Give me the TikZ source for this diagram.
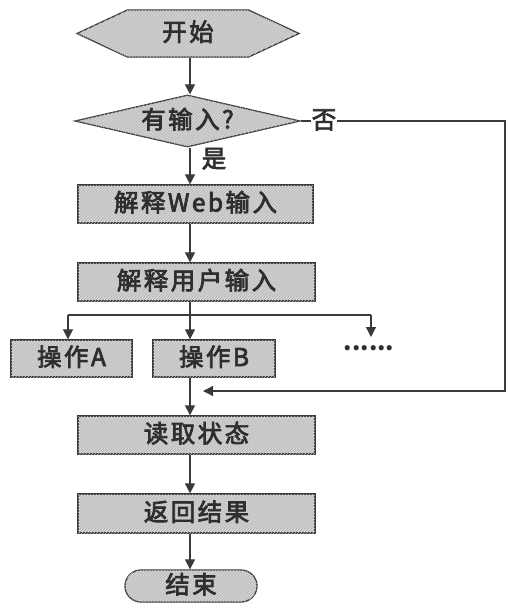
\documentclass[tikz,border=0pt]{standalone}
\usepackage{fontspec}
\setmainfont{Noto Sans CJK SC}
\newfontfamily\cjk{Noto Sans CJK SC}[LetterSpace=10, FakeBold=3]
\usetikzlibrary{shapes.geometric,shapes.misc,shapes.symbols,arrows.meta,patterns}
\definecolor{lc}{HTML}{3A3A3A}
\definecolor{fc}{HTML}{D2D2D2}
\begin{document}
\begin{tikzpicture}[x=1pt,y=-1pt,
  txt/.style={font=\cjk\fontsize{24.5}{27}\selectfont, text=black!82, text height=18pt, text depth=3pt},
  shp/.style={txt, draw=lc, line width=1.3pt, fill=fc,
    postaction={pattern=north east lines, pattern color=black!28}, inner sep=0pt},
  box/.style={shp, rectangle, minimum height=38pt},
  hex/.style={shp, signal, signal to=west and east, signal pointer angle=50},
  dia/.style={shp, diamond, aspect=4.3},
  term/.style={shp, rounded rectangle},
  lbl/.style={txt, inner sep=1pt},
  ln/.style={draw=lc, line width=1.2pt},
  arr/.style={ln, -{Triangle[width=10pt,length=10pt]}}]
\useasboundingbox (0,0) rectangle (516,606);
\fill[white] (0,0) rectangle (516,606);

\node[hex, minimum width=222pt, minimum height=47pt] (start) at (188,33.5) {开始};
\node[dia, minimum width=225pt, minimum height=52pt] (dec) at (187.5,121) {有输入?};
\node[lbl] (yes) at (214,160) {是};
\node[lbl, fill=white] (no) at (324,121) {否};
\node[box, minimum width=235pt] (web) at (195.5,204) {解释Web输入};
\node[box, minimum width=237pt] (user) at (196.5,282) {解释用户输入};
\node[box, minimum width=121pt, minimum height=37pt] (opA) at (71.5,358.5) {操作A};
\node[box, minimum width=122pt, minimum height=37pt] (opB) at (214,358.5) {操作B};
\node[font=\bfseries\fontsize{24}{26}\selectfont, text=black!82, inner sep=0pt, anchor=base] (dots) at (369,350) {......};
\node[box, minimum width=237pt] (read) at (196.5,435) {读取状态};
\node[box, minimum width=237pt, minimum height=39pt] (ret) at (196.5,513.5) {返回结果};
\node[term, minimum width=132pt, minimum height=32pt] (end) at (191,586) {结束};

\coordinate (ax) at (190,0);
\coordinate (br) at (190,315);
\coordinate (brL) at (68,315);
\coordinate (brR) at (371,315);
\coordinate (dotsTop) at (371,337);
\coordinate (c1) at (505,121);
\coordinate (c2) at (505,391);
\coordinate (back) at (203,391);

\draw[arr] (start.south -| ax) -- (dec.north -| ax);
\draw[arr] (dec.south -| ax) -- (web.north -| ax);
\draw[arr] (web.south -| ax) -- (user.north -| ax);
\draw[ln] (user.south -| ax) -- (br);
\draw[ln] (brL) -- (brR);
\draw[arr] (brL) -- (opA.north -| brL);
\draw[arr] (br) -- (opB.north -| ax);
\draw[arr] (brR) -- (dotsTop);
\draw[arr] (opB.south -| ax) -- (read.north -| ax);
\draw[ln] (dec.east) -- (no.west);
\draw[arr] (no.east) -- (c1) -- (c2) -- (back);
\draw[arr] (read.south -| ax) -- (ret.north -| ax);
\draw[arr] (ret.south -| ax) -- (end.north -| ax);
\end{tikzpicture}
\end{document}
